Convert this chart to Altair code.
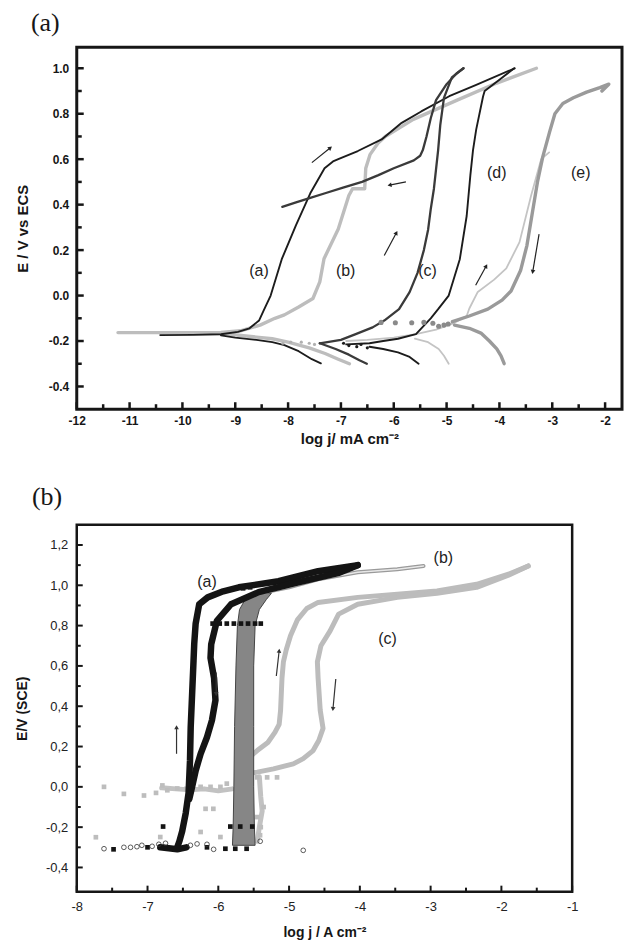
import math
import altair as alt
import pandas as pd

# ---------------- layout ----------------
W_A, H_A = 547, 363
W_B, H_B = 497, 368
XD_A = [-12, -1.68]
YD_A = [-0.5, 1.092]
XD_B = [-8, -1]
YD_B = [-0.52, 1.30]

# ---------------- panel (a) ticks ----------------
A_XTICKS = [-12, -11, -10, -9, -8, -7, -6, -5, -4, -3, -2]
A_XMINOR = [-11.5, -10.5, -9.5, -8.5, -7.5, -6.5, -5.5, -4.5, -3.5, -2.5]
A_YTICKS = [-0.4, -0.2, 0.0, 0.2, 0.4, 0.6, 0.8, 1.0]
A_YMINOR = [-0.3, -0.1, 0.1, 0.3, 0.5, 0.7, 0.9]

# ---------------- panel (a) curves ----------------
a_fwd_x = [-10.42, -9.8, -9.27, -8.95, -8.73, -8.55, -8.47, -8.33, -8.12, -7.85, -7.58, -7.31, -7.15, -7.05, -6.68, -6.23, -5.85, -5.48, -4.95, -4.45, -3.71]
a_fwd_y = [-0.174, -0.173, -0.17, -0.16, -0.144, -0.11, -0.07, 0.0, 0.16, 0.31, 0.45, 0.56, 0.59, 0.60, 0.636, 0.687, 0.76, 0.81, 0.877, 0.926, 1.0]
a_cath_x = [-9.27, -9.0, -8.6, -8.3, -8.07, -7.8, -7.55, -7.38]
a_cath_y = [-0.175, -0.185, -0.195, -0.205, -0.218, -0.245, -0.28, -0.298]

b_fwd_x = [-11.22, -10.5, -9.8, -9.27, -8.9, -8.53, -8.25, -8.07, -7.8, -7.53, -7.4, -7.32, -7.05, -6.85, -6.78, -6.55, -6.53, -6.45, -6.3, -6.16, -5.63, -4.8, -4.05, -3.3]
b_fwd_y = [-0.163, -0.163, -0.163, -0.162, -0.155, -0.13, -0.1, -0.085, -0.05, -0.013, 0.06, 0.162, 0.293, 0.44, 0.47, 0.47, 0.56, 0.62, 0.67, 0.70, 0.775, 0.86, 0.935, 1.0]
b_cath_x = [-9.27, -8.8, -8.3, -8.0, -7.6, -7.3, -7.05, -6.84]
b_cath_y = [-0.166, -0.178, -0.19, -0.205, -0.23, -0.255, -0.28, -0.30]

c_fwd_x = [-7.4, -7.0, -6.72, -6.4, -6.18, -5.9, -5.7, -5.55, -5.43, -5.35, -5.3, -5.24, -5.2, -5.16, -5.12, -5.05, -4.9, -4.68]
c_fwd_y = [-0.21, -0.195, -0.17, -0.14, -0.11, -0.06, 0.015, 0.1, 0.2, 0.29, 0.38, 0.47, 0.555, 0.64, 0.75, 0.87, 0.96, 1.0]
c_rev_x = [-4.68, -4.8, -5.0, -5.2, -5.3, -5.38, -5.45, -5.5, -5.62, -6.0, -6.29, -6.6, -6.96, -7.3, -7.58, -7.85, -8.11]
c_rev_y = [1.0, 0.98, 0.93, 0.86, 0.78, 0.70, 0.64, 0.615, 0.595, 0.56, 0.53, 0.50, 0.475, 0.45, 0.43, 0.41, 0.39]
c_cath_x = [-7.4, -7.1, -6.85, -6.65, -6.51]
c_cath_y = [-0.21, -0.235, -0.26, -0.285, -0.30]

d_fwd_x = [-6.9, -6.46, -6.2, -5.92, -5.58, -5.3, -5.16, -4.96, -4.75, -4.62, -4.55, -4.5, -4.44, -4.31, -4.28, -4.0, -3.72]
d_fwd_y = [-0.215, -0.21, -0.20, -0.19, -0.17, -0.10, -0.06, 0.0, 0.16, 0.35, 0.53, 0.64, 0.73, 0.876, 0.90, 0.95, 1.0]
d_cath_x = [-6.46, -6.2, -5.92, -5.7, -5.53]
d_cath_y = [-0.225, -0.235, -0.25, -0.27, -0.30]

e_thin_x = [-6.9, -6.5, -6.0, -5.58, -5.2, -4.85, -4.62, -4.57, -4.41, -4.1, -3.87, -3.62, -3.40, -3.21, -3.06]
e_thin_y = [-0.20, -0.195, -0.185, -0.17, -0.15, -0.12, -0.09, -0.057, 0.016, 0.07, 0.12, 0.235, 0.44, 0.60, 0.63]
e_thin_cath_x = [-5.6, -5.35, -5.15, -5.05, -4.96]
e_thin_cath_y = [-0.19, -0.205, -0.235, -0.265, -0.30]

e_thick_x = [-4.89, -4.57, -4.22, -3.95, -3.78, -3.6, -3.48, -3.38, -3.28, -3.18, -3.05, -2.95, -2.8, -2.6, -2.35, -2.1, -1.93, -2.06]
e_thick_y = [-0.115, -0.09, -0.06, -0.02, 0.02, 0.11, 0.22, 0.36, 0.5, 0.61, 0.72, 0.80, 0.845, 0.87, 0.895, 0.915, 0.93, 0.90]
e_thick_cath_x = [-4.85, -4.57, -4.35, -4.19, -4.05, -3.97, -3.91]
e_thick_cath_y = [-0.13, -0.144, -0.165, -0.20, -0.235, -0.265, -0.30]

e_dots_x = [-6.24, -5.97, -5.66, -5.43, -5.26, -5.15, -5.05, -4.97]
e_dots_y = [-0.118, -0.12, -0.12, -0.118, -0.122, -0.135, -0.13, -0.125]
b_dots_x = [-8.1, -7.95, -7.75, -7.6, -7.5]
b_dots_y = [-0.21, -0.205, -0.205, -0.21, -0.215]
d_dots_x = [-6.95, -6.85, -6.7, -6.62, -6.5]
d_dots_y = [-0.21, -0.22, -0.225, -0.215, -0.23]

arrA_x1 = [-7.55, -5.77, -6.18, -4.45, -3.25]
arrA_y1 = [0.585, 0.50, 0.176, 0.045, 0.27]
arrA_x2 = [-7.2, -6.08, -5.95, -4.25, -3.37]
arrA_y2 = [0.65, 0.486, 0.276, 0.13, 0.104]

lblA_text = ["(a)", "(b)", "(c)", "(d)", "(e)"]
lblA_x = [-8.55, -6.91, -5.36, -4.05, -2.46]
lblA_y = [0.11, 0.11, 0.11, 0.54, 0.54]

# ---------------- panel (b) ticks ----------------
B_XTICKS = [-8, -7, -6, -5, -4, -3, -2, -1]
B_XMINOR = [-7.5, -6.5, -5.5, -4.5, -3.5, -2.5, -1.5]
B_YTICKS = [-0.4, -0.2, 0.0, 0.2, 0.4, 0.6, 0.8, 1.0, 1.2]
B_YMINOR = [-0.3, -0.1, 0.1, 0.3, 0.5, 0.7, 0.9, 1.1]

# ---------------- panel (b) curves ----------------
pb_a_fwd_x = [-6.58, -6.55, -6.51, -6.46, -6.42, -6.40, -6.39, -6.37, -6.35, -6.34, -6.32, -6.27, -6.15, -5.93, -5.71, -5.15, -4.59, -4.03]
pb_a_fwd_y = [-0.30, -0.27, -0.22, -0.13, -0.03, 0.13, 0.295, 0.46, 0.625, 0.71, 0.81, 0.906, 0.94, 0.97, 0.99, 1.02, 1.07, 1.10]
pb_a_rev_x = [-4.03, -4.31, -4.87, -5.43, -5.82, -6.02, -6.10, -6.11, -6.06, -6.04, -6.09, -6.16, -6.25, -6.32, -6.37, -6.41]
pb_a_rev_y = [1.10, 1.06, 1.015, 0.966, 0.906, 0.824, 0.708, 0.64, 0.54, 0.43, 0.33, 0.246, 0.164, 0.08, 0.0, -0.06]
pb_a_foot_x = [-6.82, -6.7, -6.58, -6.45]
pb_a_foot_y = [-0.30, -0.305, -0.31, -0.30]

pb_b_band_y = [-0.29, -0.2, 0.0, 0.3, 0.6, 0.8, 0.88, 0.93, 0.96]
pb_b_band_xl = [-5.80, -5.79, -5.78, -5.77, -5.75, -5.73, -5.70, -5.62, -5.45]
pb_b_band_xr = [-5.48, -5.49, -5.50, -5.50, -5.50, -5.48, -5.42, -5.32, -5.25]
pb_b_top_x = [-5.35, -5.0, -4.59, -4.03, -3.47, -3.1]
pb_b_top_y = [0.965, 0.99, 1.03, 1.065, 1.08, 1.096]

pb_c_fwd_x = [-5.55, -5.45, -5.3, -5.2, -5.14, -5.12, -5.10, -5.08, -5.04, -4.98, -4.88, -4.75, -4.59, -4.03, -3.47, -2.91, -2.35, -1.9, -1.62]
pb_c_fwd_y = [0.15, 0.18, 0.22, 0.27, 0.31, 0.38, 0.54, 0.62, 0.68, 0.75, 0.83, 0.885, 0.915, 0.94, 0.956, 0.972, 1.005, 1.055, 1.096]
pb_c_rev_x = [-1.62, -1.9, -2.35, -2.91, -3.47, -4.03, -4.3, -4.42, -4.55, -4.6, -4.59, -4.56, -4.52, -4.58, -4.66, -4.8, -4.94, -5.22, -5.45, -5.6]
pb_c_rev_y = [1.096, 1.05, 0.99, 0.96, 0.94, 0.906, 0.857, 0.774, 0.70, 0.62, 0.54, 0.38, 0.29, 0.23, 0.18, 0.14, 0.114, 0.089, 0.073, 0.064]
pb_gband_x = [-6.8, -6.6, -6.4, -6.2, -6.0, -5.8]
pb_gband_y = [-0.005, -0.01, -0.015, -0.01, -0.02, -0.01]
pb_gside_x = [-5.42, -5.40, -5.38, -5.42, -5.45]
pb_gside_y = [0.05, -0.05, -0.12, -0.2, -0.27]

pb_gsq_x = [-7.73, -7.615, -7.334, -7.05, -6.88, -6.82, -6.79, -6.72, -6.58, -6.45, -6.25, -6.18, -6.11, -6.07, -5.97, -5.88, -5.69, -5.45, -5.36, -5.31, -5.17, -5.45, -5.41, -5.97, -6.25, -5.4]
pb_gsq_y = [-0.25, 0.0, -0.035, -0.043, -0.03, -0.249, 0.007, -0.017, -0.008, -0.01, 0.0, -0.109, 0.0, -0.109, 0.0, 0.016, 0.023, 0.047, -0.1, 0.047, 0.047, -0.15, -0.24, -0.249, -0.224, -0.2]
pb_bsq_x = [-7.48, -7.0, -6.78, -6.16, -5.90, -5.83, -5.76, -5.69, -5.60, -5.52, -6.08, -5.98, -5.88, -5.78, -5.68, -5.58, -5.48, -5.40, -5.65, -5.55]
pb_bsq_y = [-0.31, -0.30, -0.197, -0.30, -0.307, -0.197, -0.307, -0.197, -0.307, -0.197, 0.81, 0.81, 0.81, 0.81, 0.81, 0.81, 0.81, 0.81, 0.985, 0.99]
pb_oc_x = [-7.615, -7.334, -7.24, -7.15, -7.08, -6.935, -6.84, -6.746, -6.394, -6.30, -6.16, -6.066, -5.408, -4.80]
pb_oc_y = [-0.307, -0.30, -0.30, -0.297, -0.29, -0.295, -0.285, -0.28, -0.29, -0.283, -0.285, -0.31, -0.27, -0.315]

arrB_x1 = [-6.59, -6.03, -5.18, -4.34]
arrB_y1 = [0.164, 0.567, 0.55, 0.535]
arrB_x2 = [-6.59, -6.03, -5.14, -4.38]
arrB_y2 = [0.296, 0.46, 0.675, 0.386]

lblB_text = ["(a)", "(b)", "(c)"]
lblB_x = [-6.16, -2.82, -3.61]
lblB_y = [1.015, 1.134, 0.733]

PANEL_TAGS = ["(a)", "(b)"]

FONT = "Liberation Sans"
INK = "#161616"
MINUS = "\u2212"


def series_df(items):
    rows = []
    for sid, xs, ys in items:
        for i, (x, y) in enumerate(zip(xs, ys)):
            rows.append({"sid": sid, "ord": i, "x": x, "y": y})
    return pd.DataFrame(rows)


def pts_df(xs, ys):
    return pd.DataFrame({"x": xs, "y": ys})


class Panel:
    def __init__(self, xs, ys, axx, axy):
        self.xs, self.ys, self.axx, self.axy = xs, ys, axx, axy

    def X(self, f):
        return alt.X(f, scale=self.xs, axis=self.axx)

    def Y(self, f):
        return alt.Y(f, scale=self.ys, axis=self.axy)

    def lines(self, items, color, width):
        return alt.Chart(series_df(items)).mark_line(
            color=color, strokeWidth=width, strokeCap="round", strokeJoin="round"
        ).encode(x=self.X("x:Q"), y=self.Y("y:Q"), detail="sid:N", order="ord:Q")

    def arrows(self, x1, y1, x2, y2, sx, sy, color):
        angs = []
        for a, b, c, d in zip(x1, y1, x2, y2):
            dxs = (c - a) * sx
            dys = -(d - b) * sy
            angs.append(math.degrees(math.atan2(dxs, -dys)) % 360)
        df = pd.DataFrame({"x": x1, "y": y1, "x2": x2, "y2": y2, "ang": angs})
        shaft = alt.Chart(df).mark_rule(color=color, strokeWidth=1.2).encode(
            x=self.X("x:Q"), y=self.Y("y:Q"), x2="x2:Q", y2="y2:Q")
        head = alt.Chart(df).mark_point(shape="triangle-up", filled=True, size=22, color=color,
                                        opacity=1).encode(
            x=self.X("x2:Q"), y=self.Y("y2:Q"), angle=alt.Angle("ang:Q", scale=None))
        return [shaft, head]

    def ticks(self, H, xmaj, xmin, ymaj, ymin, majlen, minlen, tw):
        out = []
        for vals, ln in [(xmaj, majlen), (xmin, minlen)]:
            out.append(alt.Chart(pd.DataFrame({"v": vals})).mark_rule(color=INK, strokeWidth=tw).encode(
                x=self.X("v:Q"), y=alt.value(H), y2=alt.value(H - ln)))
        for vals, ln in [(ymaj, majlen), (ymin, minlen)]:
            out.append(alt.Chart(pd.DataFrame({"v": vals})).mark_rule(color=INK, strokeWidth=tw).encode(
                y=self.Y("v:Q"), x=alt.value(0), x2=alt.value(ln)))
        return out

    def points(self, xs, ys, mark):
        return mark.encode(x=self.X("x:Q"), y=self.Y("y:Q")).properties(data=pts_df(xs, ys))


def panel_tag(text, dx, dy):
    return alt.Chart(pd.DataFrame({"t": [text]})).mark_text(
        font="Liberation Serif", fontSize=26, color=INK, align="left", baseline="alphabetic"
    ).encode(text="t:N", x=alt.value(dx), y=alt.value(dy))


# ======================= panel (a) =======================
xsA = alt.Scale(domain=XD_A, nice=False, zero=False)
ysA = alt.Scale(domain=YD_A, nice=False, zero=False)
SXA = W_A / (XD_A[1] - XD_A[0])
SYA = H_A / (YD_A[1] - YD_A[0])

axXA = alt.Axis(
    values=A_XTICKS, labelExpr="replace(format(datum.value,'d'),'" + MINUS + "','-')",
    ticks=False, domain=False, grid=False, labelFlush=False, labelOverlap=False,
    labelPadding=6, labelFont=FONT, labelFontSize=12, labelFontWeight="bold", labelColor=INK,
    title="log j/ mA cm\u207b\u00b2", titleFont=FONT, titleFontSize=15, titleFontWeight="bold",
    titleColor=INK, titlePadding=5)
axYA = alt.Axis(
    values=A_YTICKS, labelExpr="replace(format(datum.value,'.1f'),'" + MINUS + "','-')",
    ticks=False, domain=False, grid=False, labelFlush=False, labelOverlap=False,
    labelPadding=8, labelFont=FONT, labelFontSize=12, labelFontWeight="bold", labelColor=INK,
    title="E / V vs ECS", titleFont=FONT, titleFontSize=15, titleFontWeight="bold",
    titleColor=INK, titleX=-54, titleY=H_A / 2, titleBaseline="middle", titleAlign="center")

PA = Panel(xsA, ysA, axXA, axYA)
lblA = pd.DataFrame({"x": lblA_x, "y": lblA_y, "t": lblA_text})

layersA = PA.ticks(H_A, A_XTICKS, A_XMINOR, A_YTICKS, A_YMINOR, 7, 5, 2.5)
layersA.append(PA.lines([("b", b_fwd_x, b_fwd_y), ("bc", b_cath_x, b_cath_y)], "#bdbdbd", 3.4))
layersA.append(PA.lines([("e1", e_thin_x, e_thin_y), ("e2", e_thin_cath_x, e_thin_cath_y)], "#c4c4c4", 1.8))
layersA.append(PA.lines([("e3", e_thick_x, e_thick_y), ("e4", e_thick_cath_x, e_thick_cath_y)], "#9a9a9a", 3.4))
layersA.append(PA.lines([
    ("a", a_fwd_x, a_fwd_y), ("ac", a_cath_x, a_cath_y),
    ("d", d_fwd_x, d_fwd_y), ("dc", d_cath_x, d_cath_y),
], "#1c1c1c", 1.9))
layersA.append(PA.lines([
    ("c", c_fwd_x, c_fwd_y), ("cr", c_rev_x, c_rev_y), ("cc", c_cath_x, c_cath_y),
], "#3a3a3a", 2.3))
layersA.append(PA.points(e_dots_x, e_dots_y, alt.Chart().mark_circle(color="#8a8a8a", size=26, opacity=1)))
layersA.append(PA.points(b_dots_x, b_dots_y, alt.Chart().mark_circle(color="#b0b0b0", size=10, opacity=1)))
layersA.append(PA.points(d_dots_x, d_dots_y, alt.Chart().mark_circle(color="#1c1c1c", size=10, opacity=1)))
layersA += PA.arrows(arrA_x1, arrA_y1, arrA_x2, arrA_y2, SXA, SYA, "#222222")
layersA.append(alt.Chart(lblA).mark_text(font=FONT, fontSize=16, color="#222222").encode(
    x=PA.X("x:Q"), y=PA.Y("y:Q"), text="t:N"))
layersA.append(panel_tag(PANEL_TAGS[0], -46, -16))

panelA = alt.layer(*layersA).properties(
    width=W_A, height=H_A,
    view=alt.ViewBackground(stroke=INK, strokeWidth=3),
)

# ======================= panel (b) =======================
xsB = alt.Scale(domain=XD_B, nice=False, zero=False)
ysB = alt.Scale(domain=YD_B, nice=False, zero=False)
SXB = W_B / (XD_B[1] - XD_B[0])
SYB = H_B / (YD_B[1] - YD_B[0])

axXB = alt.Axis(
    values=B_XTICKS, labelExpr="replace(format(datum.value,'d'),'" + MINUS + "','-')",
    ticks=False, domain=False, grid=False, labelFlush=False, labelOverlap=False,
    labelPadding=9, labelFont=FONT, labelFontSize=13, labelColor="#222222",
    title="log j / A cm\u207b\u00b2", titleFont=FONT, titleFontSize=14, titleFontWeight="bold",
    titleColor=INK, titlePadding=12)
axYB = alt.Axis(
    values=B_YTICKS,
    labelExpr="replace(replace(format(datum.value,'.1f'),'.',','),'" + MINUS + "','-')",
    ticks=False, domain=False, grid=False, labelFlush=False, labelOverlap=False,
    labelPadding=9, labelFont=FONT, labelFontSize=13, labelColor="#222222",
    title="E/V (SCE)", titleFont=FONT, titleFontSize=14, titleFontWeight="bold",
    titleColor=INK, titleX=-54, titleY=H_B / 2, titleBaseline="middle", titleAlign="center")

PB = Panel(xsB, ysB, axXB, axYB)
lblB = pd.DataFrame({"x": lblB_x, "y": lblB_y, "t": lblB_text})
bandB = pd.DataFrame({"y": pb_b_band_y, "xl": pb_b_band_xl, "xr": pb_b_band_xr})

layersB = PB.ticks(H_B, B_XTICKS, B_XMINOR, B_YTICKS, B_YMINOR, 6, 4, 2)
layersB.append(PB.lines([("g1", pb_gband_x, pb_gband_y), ("g2", pb_gside_x, pb_gside_y)], "#c2c2c2", 5))
layersB.append(PB.points(pb_gsq_x, pb_gsq_y, alt.Chart().mark_square(color="#bdbdbd", size=22, opacity=1)))
layersB.append(PB.lines([("cf", pb_c_fwd_x, pb_c_fwd_y), ("cr", pb_c_rev_x, pb_c_rev_y)], "#bcbcbc", 5))
layersB.append(alt.Chart(bandB).mark_area(orient="horizontal", color="#868686", opacity=1,
                                          stroke="#444444", strokeWidth=1).encode(
    y=PB.Y("y:Q"), x=PB.X("xl:Q"), x2="xr:Q"))
layersB.append(PB.lines([("bt", pb_b_top_x, pb_b_top_y)], "#9a9a9a", 4))
layersB.append(PB.lines([("bt2", pb_b_top_x, pb_b_top_y)], "#e8e8e8", 1.5))
layersB.append(PB.lines([
    ("af", pb_a_fwd_x, pb_a_fwd_y), ("ar", pb_a_rev_x, pb_a_rev_y), ("ft", pb_a_foot_x, pb_a_foot_y)
], "#141414", 6.5))
layersB.append(PB.points(pb_bsq_x, pb_bsq_y, alt.Chart().mark_square(color="#141414", size=22, opacity=1)))
layersB.append(PB.points(pb_oc_x, pb_oc_y, alt.Chart().mark_point(
    shape="circle", filled=False, color="#333333", size=22, strokeWidth=0.8, opacity=1)))
layersB += PB.arrows(arrB_x1, arrB_y1, arrB_x2, arrB_y2, SXB, SYB, "#333333")
layersB.append(alt.Chart(lblB).mark_text(font=FONT, fontSize=16, color="#222222").encode(
    x=PB.X("x:Q"), y=PB.Y("y:Q"), text="t:N"))
layersB.append(panel_tag(PANEL_TAGS[1], -45, -20))

panelB = alt.layer(*layersB).properties(
    width=W_B, height=H_B,
    view=alt.ViewBackground(stroke=INK, strokeWidth=2.5),
)

chart = alt.vconcat(panelA, panelB, spacing=34).properties(
    padding={"left": 14, "top": 7, "right": 0, "bottom": 0},
    background="white",
).configure_view(stroke=INK)

chart.save("out.html", embed_options={"renderer": "svg", "actions": False})
